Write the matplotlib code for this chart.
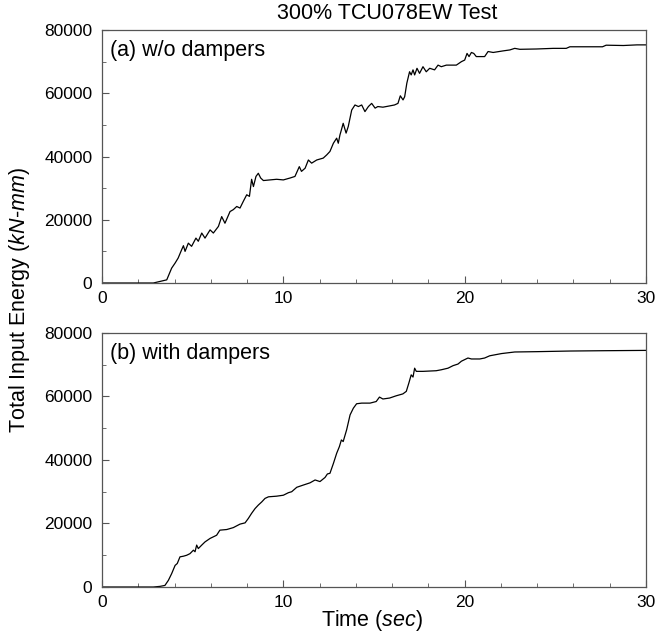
import numpy as np
import matplotlib
matplotlib.use("Agg")
import matplotlib.pyplot as plt
from matplotlib.ticker import MultipleLocator

plt.rcParams['font.family'] = ['Liberation Sans', 'DejaVu Sans']
plt.rcParams['mathtext.fontset'] = 'custom'
plt.rcParams['mathtext.rm'] = 'Liberation Sans'
plt.rcParams['mathtext.it'] = 'Liberation Sans:italic'

# (a) without dampers: time (s), total input energy (kN-mm)
t_a = [0, 2.83, 3.2, 3.57, 3.84, 4.03, 4.2, 4.39, 4.49, 4.58, 4.76, 4.94, 5.18, 5.31,
       5.5, 5.68, 5.96, 6.14, 6.42, 6.6, 6.78, 7.06, 7.24, 7.43, 7.61, 7.79, 7.98,
       8.13, 8.25, 8.35, 8.49, 8.62, 8.75, 8.9, 9.26, 9.63, 10.0, 10.37, 10.64,
       10.88, 11.0, 11.2, 11.38, 11.56, 11.84, 12.2, 12.39, 12.57, 12.76, 12.94,
       13.03, 13.12, 13.2, 13.3, 13.46, 13.58, 13.77, 13.95, 14.14, 14.32, 14.5,
       14.69, 14.87, 15.06, 15.21, 15.49, 15.86, 16.13, 16.32, 16.45, 16.6, 16.69,
       16.81, 16.96, 17.05, 17.15, 17.24, 17.37, 17.51, 17.7, 17.88, 18.07, 18.34,
       18.53, 18.71, 18.99, 19.54, 19.82, 20.0, 20.13, 20.24, 20.37, 20.5, 20.64,
       21.1, 21.29, 21.57, 22.12, 22.49, 22.76, 23.04, 23.96, 24.88, 25.6, 25.8,
       26.7, 27.6, 27.8, 28.75, 29.5, 30.0]
e_a = [0, 0, 500, 1000, 4700, 6300, 7900, 10500, 11800, 10000, 12600, 11600, 14200,
       13200, 15800, 14200, 16800, 15800, 17900, 21000, 18900, 22600, 23200, 24200,
       23700, 25800, 27900, 27400, 32800, 30500, 33700, 34700, 33200, 32400, 32600,
       32800, 32600, 33200, 33700, 36800, 35300, 36300, 38900, 37900, 38900, 39500,
       40500, 41600, 44200, 45800, 44200, 46800, 48400, 50500, 47400, 49500, 54700,
       56300, 55800, 56300, 54200, 55800, 56800, 55300, 55800, 55600, 56000, 56300,
       56800, 59200, 57900, 58900, 63200, 66800, 65800, 67400, 65800, 67900, 66300,
       68400, 66800, 67900, 67400, 68900, 68400, 68900, 68900, 70000, 70500, 72600,
       71600, 72900, 72600, 71600, 71600, 73200, 72900, 73400, 73700, 74200, 73900,
       74000, 74200, 74200, 74700, 74700, 74700, 75200, 75100, 75300, 75300]

# (b) with dampers
t_b = [0, 2.83, 3.2, 3.47, 3.66, 3.84, 4.03, 4.15, 4.3, 4.49, 4.67, 4.85, 5.04, 5.13,
       5.22, 5.31, 5.5, 5.68, 5.96, 6.14, 6.32, 6.5, 6.88, 7.24, 7.61, 7.89, 8.07,
       8.25, 8.44, 8.62, 8.81, 8.99, 9.18, 9.63, 10.0, 10.28, 10.46, 10.74, 11.1,
       11.47, 11.75, 12.02, 12.3, 12.43, 12.57, 12.76, 12.94, 13.09, 13.2, 13.3,
       13.49, 13.68, 13.86, 14.04, 14.32, 14.78, 15.12, 15.3, 15.49, 15.86, 16.22,
       16.59, 16.78, 16.92, 17.05, 17.15, 17.24, 17.33, 17.7, 18.43, 18.71, 19.08,
       19.36, 19.63, 19.82, 20.0, 20.18, 20.37, 20.83, 21.1, 21.38, 22.03, 22.76,
       23.96, 25.8, 27.64, 30.0]
e_b = [0, 0, 200, 500, 2100, 4200, 6800, 7400, 9500, 9700, 10000, 10500, 11600,
       11100, 13200, 12100, 13200, 14200, 15300, 15800, 16300, 17900, 18100, 18700,
       19800, 20200, 21600, 23200, 24700, 25800, 26800, 27900, 28400, 28600, 28900,
       29700, 30000, 31400, 32100, 32800, 33700, 33200, 34500, 35600, 35800, 38900,
       42100, 44200, 46300, 45800, 49500, 54200, 56300, 57700, 57900, 57900, 58400,
       59800, 59200, 59500, 60200, 60800, 61600, 64200, 66800, 66100, 68900, 67900,
       67900, 68100, 68400, 68900, 69700, 70200, 71100, 71600, 72100, 71800, 71800,
       72100, 72800, 73500, 74000, 74100, 74300, 74400, 74500]

panels = [(t_a, e_a, '(a) w/o dampers'), (t_b, e_b, '(b) with dampers')]

fig = plt.figure(figsize=(6.56, 6.4), dpi=100)
ax_top = fig.add_axes([0.1555, 0.5578, 0.8293, 0.3953])
ax_bot = fig.add_axes([0.1555, 0.0828, 0.8293, 0.3970])

for ax, (t, e, label) in zip([ax_top, ax_bot], panels):
    ax.plot(t, e, color='black', lw=0.9)
    ax.set_xlim(0, 30)
    ax.set_ylim(0, 80000)
    ax.xaxis.set_major_locator(MultipleLocator(10))
    ax.xaxis.set_minor_locator(MultipleLocator(2))
    ax.yaxis.set_major_locator(MultipleLocator(20000))
    ax.yaxis.set_minor_locator(MultipleLocator(10000))
    ax.tick_params(which='both', direction='in', labelsize=12.5, color='#555555')
    ax.tick_params(which='major', length=5)
    ax.tick_params(which='minor', length=3)
    ax.tick_params(axis='y', pad=7)
    ax.tick_params(axis='x', pad=6)
    for s in ax.spines.values():
        s.set_color('#555555')
        s.set_linewidth(0.9)
    ax.text(0.015, 0.96, label, transform=ax.transAxes, fontsize=15.5,
            ha='left', va='top')

fig.text(0.59, 0.979, '300% TCU078EW Test', ha='center', va='center', fontsize=15.5)
fig.text(0.029, 0.531, r'Total Input Energy ($\mathit{kN}$-$\mathit{mm}$)',
         rotation=90, ha='center', va='center', fontsize=15.5)
fig.text(0.567, 0.031, r'Time ($\mathit{sec}$)', ha='center', va='center', fontsize=15.5)

fig.savefig('out.png', dpi=100)
